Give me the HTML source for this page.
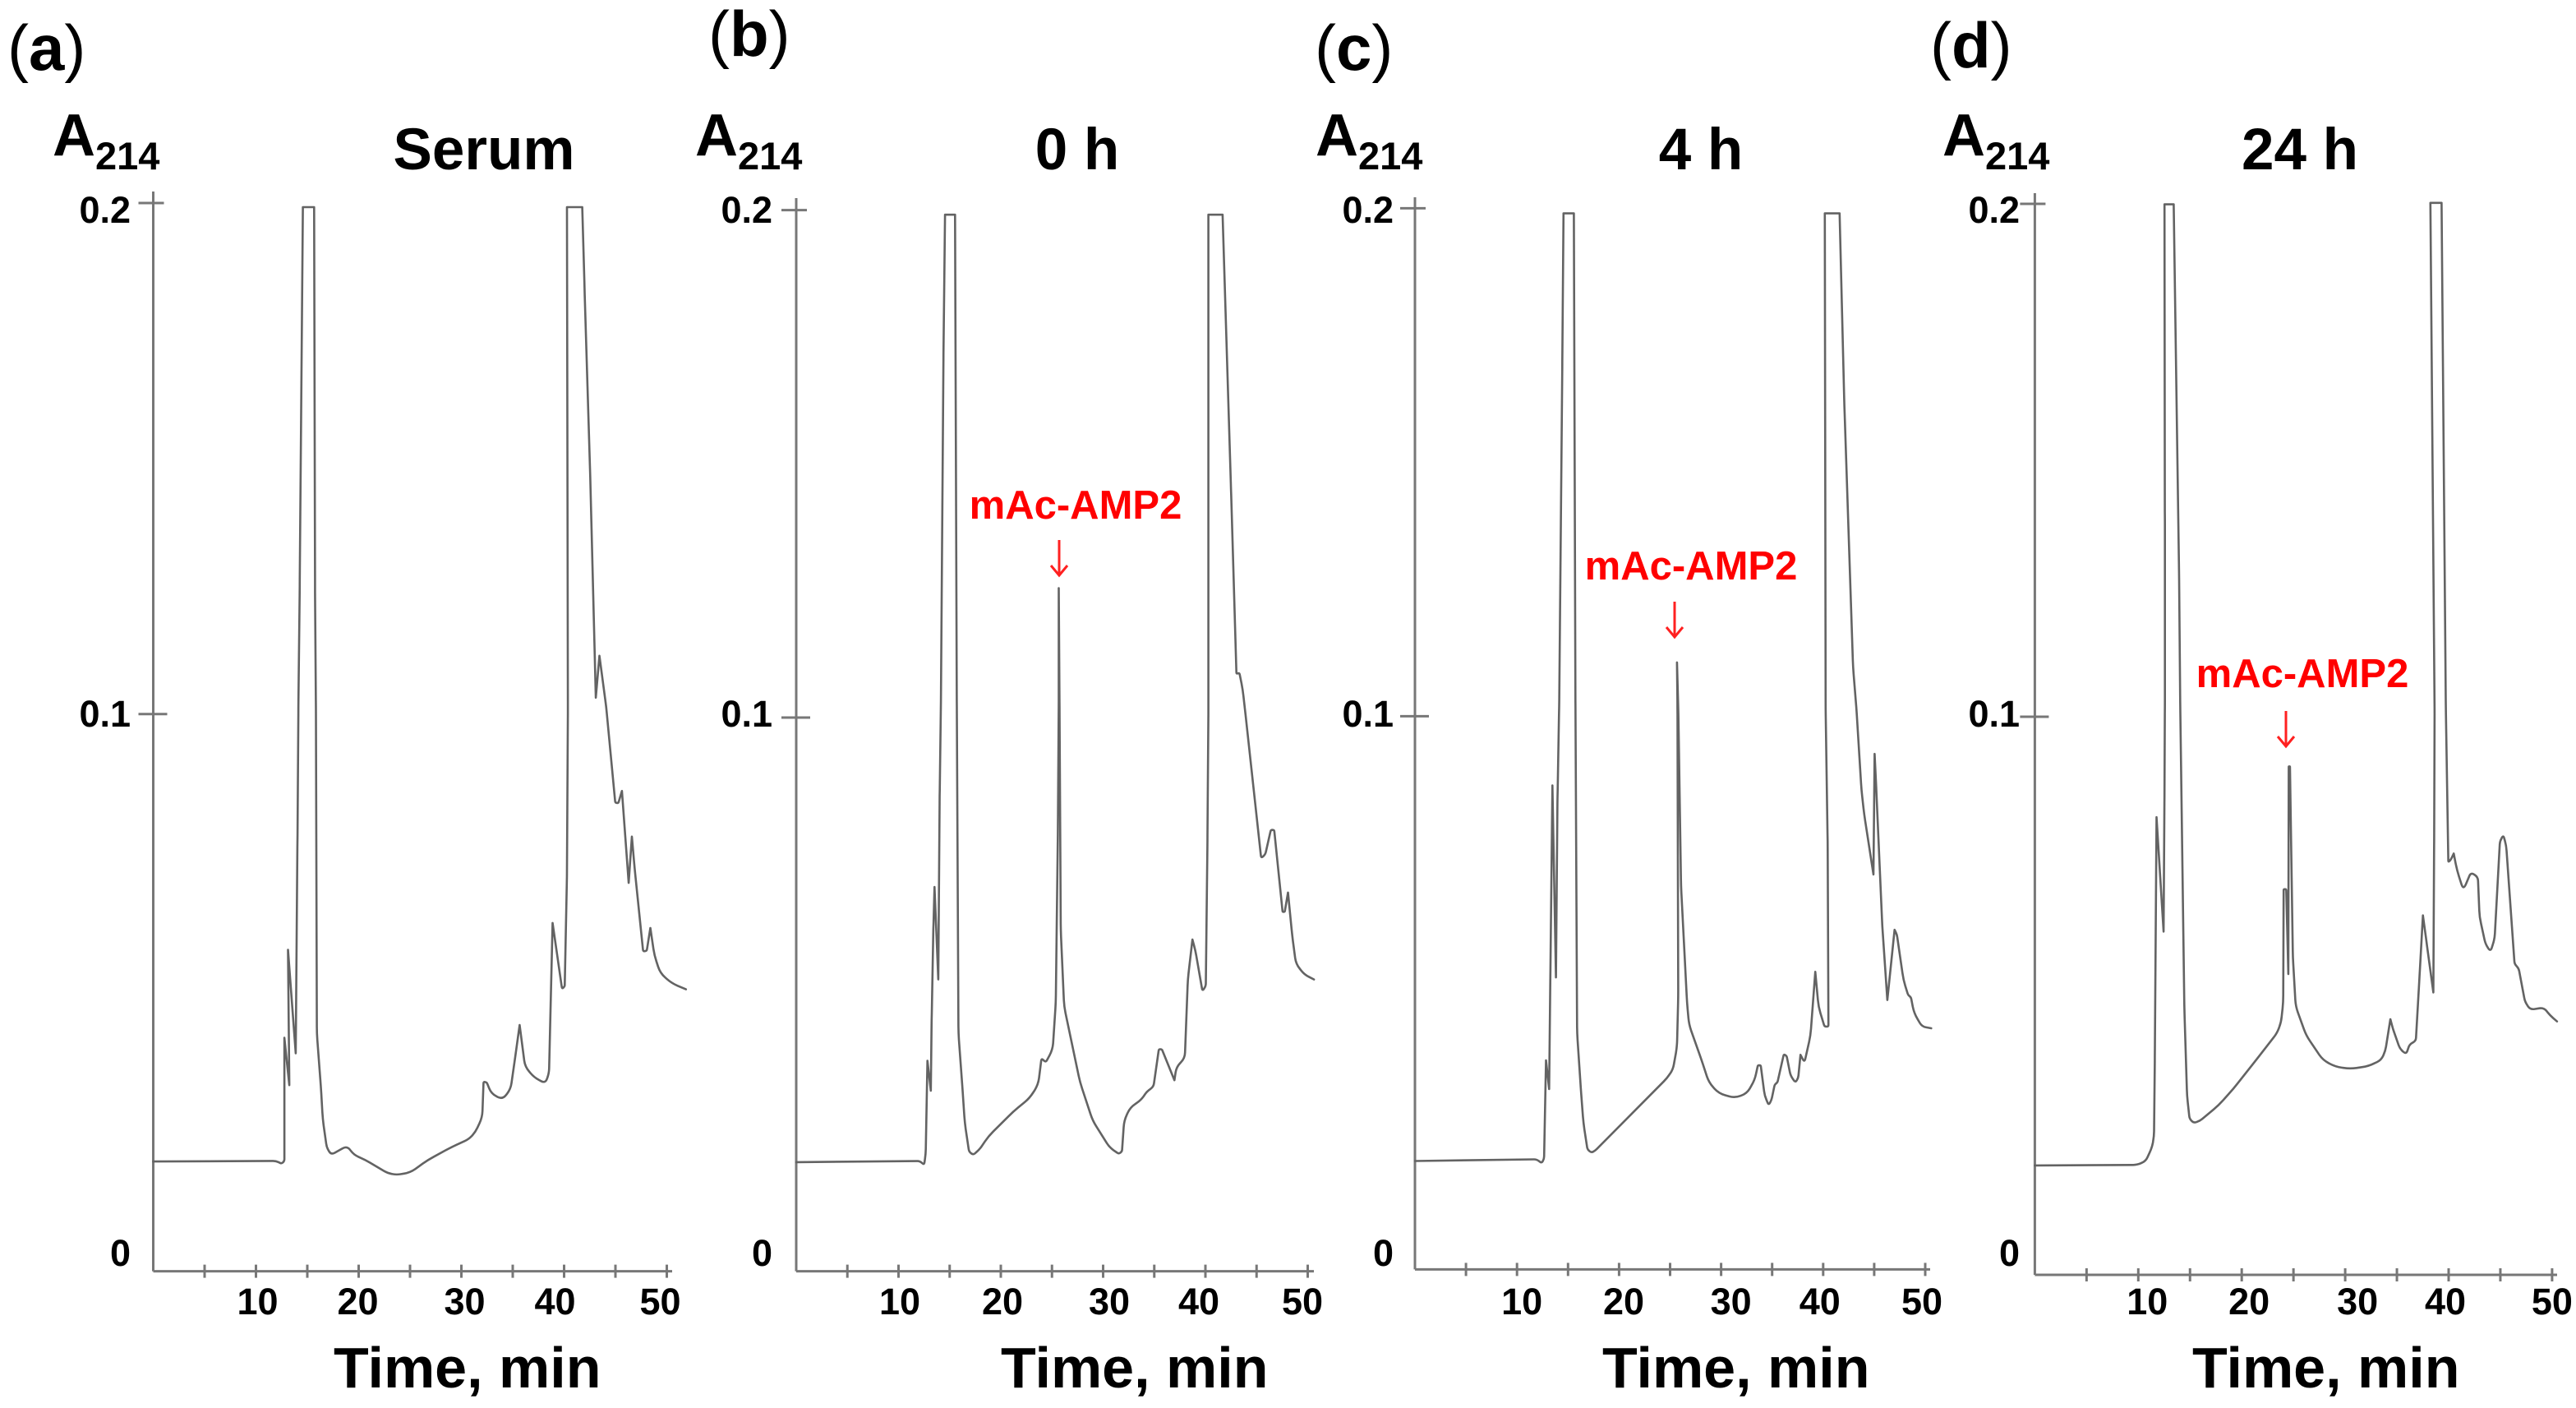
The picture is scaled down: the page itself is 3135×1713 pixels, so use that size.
<!DOCTYPE html>
<html lang="en">
<head>
<meta charset="utf-8">
<title>A214 chromatograms of mAc-AMP2 in serum</title>
<style>
html,body{margin:0;padding:0;background:#fff;width:3135px;height:1713px;overflow:hidden}
svg{display:block;font-family:"Liberation Sans",Arial,sans-serif}
text{fill:#000}
.panel-letter{font-size:78px;font-weight:700}
.a-main{font-size:72px;font-weight:700}
.a-sub{font-size:47px;font-weight:700}
.title{font-size:71px;font-weight:700;text-anchor:middle}
.x-title{font-size:70px;font-weight:700}
.peak-label{font-size:49px;font-weight:700;text-anchor:middle;fill:#ff0000}
.tick-label{font-size:45px;font-weight:700}
.axis{stroke:#777;stroke-width:3;fill:none}
.trace{stroke:#636363;stroke-width:2.6;fill:none;stroke-linejoin:round;stroke-linecap:round}
.arrow{stroke:#ff2020;stroke-width:3;fill:none}
</style>
</head>
<body>
<svg id="fig" width="3135" height="1713" viewBox="0 0 3135 1713" xmlns="http://www.w3.org/2000/svg">
  <rect width="3135" height="1713" fill="#fff"/>

  <text class="panel-letter" x="9" y="85"><tspan font-weight="400">(</tspan>a<tspan font-weight="400">)</tspan></text>
  <text class="panel-letter" x="862" y="68"><tspan font-weight="400">(</tspan>b<tspan font-weight="400">)</tspan></text>
  <text class="panel-letter" x="1600" y="85"><tspan font-weight="400">(</tspan>c<tspan font-weight="400">)</tspan></text>
  <text class="panel-letter" x="2349" y="82"><tspan font-weight="400">(</tspan>d<tspan font-weight="400">)</tspan></text>

  <g><text class="a-main" x="64" y="189">A</text><text class="a-sub" x="116" y="206">214</text></g>
  <g><text class="a-main" x="846" y="189">A</text><text class="a-sub" x="898" y="206">214</text></g>
  <g><text class="a-main" x="1601" y="189">A</text><text class="a-sub" x="1653" y="206">214</text></g>
  <g><text class="a-main" x="2364" y="189">A</text><text class="a-sub" x="2416" y="206">214</text></g>

  <text class="title" x="589" y="206">Serum</text>
  <text class="title" x="1311" y="206">0 h</text>
  <text class="title" x="2070" y="206">4 h</text>
  <text class="title" x="2799" y="206">24 h</text>

  <text class="x-title" x="406" y="1688">Time, min</text>
  <text class="x-title" x="1218" y="1688">Time, min</text>
  <text class="x-title" x="1950" y="1688">Time, min</text>
  <text class="x-title" x="2668" y="1688">Time, min</text>

  <text class="peak-label" x="1309" y="631">mAc-AMP2</text>
  <path class="arrow" d="M1289 657V699M1279 688L1289 700L1299 688"/>
  <text class="peak-label" x="2058" y="705">mAc-AMP2</text>
  <path class="arrow" d="M2038 732V774M2028 763L2038 775L2048 763"/>
  <text class="peak-label" x="2802" y="836">mAc-AMP2</text>
  <path class="arrow" d="M2782 865V907M2772 896L2782 908L2792 896"/>
</svg>

<script>
// ---------- tick data ----------
const xTickValues = [5, 10, 15, 20, 25, 30, 35, 40, 45, 50];
const xTickLabels = [10, 20, 30, 40, 50];
const yTickValues = [0.2, 0.1];
const yLabelValues = [0.2, 0.1, 0];

// ---------- panel (a) Serum ----------
const serumTime = [0,11.94,12.51,12.77,12.77,13.25,13.12,13.87,14.04,14.13,14.26,14.57,15.66,15.75,15.84,15.93,16.32,16.5,16.89,17.33,18.87,19.53,20.62,22.82,23.69,25.01,26.77,28.96,30.72,31.37,32.03,32.16,32.47,32.91,34.01,34.8,35.32,35.67,36.2,37.08,38.17,38.53,38.88,39.8,40.06,40.28,40.37,40.28,41.77,41.99,42.56,43.09,43.44,44.1,44.98,45.28,45.63,46.29,46.6,46.86,47.7,48.05,48.4,48.79,49.36,50.46,51.86];
const serumAbs = [.0197,.0198,.0193,.0198,.0419,.0334,.0577,.0391,.0772,.1013,.125,.1992,.1992,.125,.1013,.0427,.0331,.0274,.0222,.0209,.0225,.0209,.02,.0176,.0173,.0177,.02,.0222,.0237,.025,.0276,.034,.0339,.0319,.0308,.0327,.0395,.0442,.0367,.0348,.0337,.0355,.0625,.0507,.0511,.0708,.1013,.1992,.1992,.1833,.1453,.1032,.1114,.1014,.0841,.084,.0862,.0697,.078,.0724,.0574,.0575,.0616,.0567,.0535,.0517,.0506];

// ---------- panel (b) 0 h ----------
const h0Time = [0,12.09,12.5,12.66,12.83,13.16,13.24,13.4,13.52,13.89,14.02,14.14,14.39,14.55,15.53,15.7,15.86,16.27,16.48,16.89,17.3,17.91,18.81,21.19,22.83,23.65,23.98,24.39,25.08,25.37,25.57,25.66,25.66,25.74,25.86,26.19,27.75,28.98,30.61,31.52,31.84,32.05,32.66,33.69,34.3,34.92,35.45,35.74,36.97,37.17,37.99,38.28,38.73,39.02,39.71,40.04,40.2,40.29,40.29,41.68,42.5,43.03,43.32,43.65,43.85,45.45,45.86,46.39,46.72,47.54,47.75,48.07,48.48,48.85,49.67,50.61];
const h0Abs = [.0197,.0199,.0192,.0212,.038,.0326,.0454,.0616,.0694,.0527,.0858,.1019,.1703,.1991,.1991,.1021,.043,.0325,.0268,.0216,.021,.022,.0244,.0288,.0313,.0337,.0385,.0377,.0401,.0486,.0777,.1019,.1255,.1019,.0616,.0478,.0341,.0272,.0224,.0212,.0216,.0272,.0296,.0309,.0325,.0333,.0401,.0401,.0345,.0369,.0385,.0527,.0599,.0579,.0506,.0515,.0777,.1019,.1991,.1991,.145,.1086,.1088,.1055,.1019,.0746,.0753,.0797,.0797,.0649,.0649,.0684,.0607,.0555,.0536,.0527];

// ---------- panel (c) 4 h ----------
const h4Time = [0,11.94,12.41,12.65,12.84,13.15,13.27,13.47,13.82,13.97,14.13,14.44,14.56,15.57,15.73,15.89,16.24,16.51,16.9,17.29,17.68,24.71,25.29,25.68,25.8,25.72,25.68,25.8,26.07,26.66,26.85,28.02,28.8,29.78,31.34,32.51,33.29,33.6,33.88,34.27,34.66,34.93,35.25,35.52,36.14,36.42,36.81,37.28,37.55,37.78,38.17,38.76,39.23,39.54,40.13,40.52,40.44,40.24,40.16,41.61,42.08,42.93,43.25,43.75,44.02,44.93,45.04,45.2,45.79,46.29,47,47.23,47.86,48.32,48.6,48.91,49.69,50.59];
const h4Abs = [.0196,.0199,.0192,.02,.0378,.0326,.0532,.0875,.0528,.0855,.1017,.17,.199,.199,.1017,.0427,.033,.0265,.0217,.0211,.0215,.0346,.0362,.0403,.0492,.1017,.1106,.1017,.0694,.0483,.0443,.0382,.0338,.0318,.031,.0318,.0342,.0369,.0369,.0314,.0297,.0306,.0334,.0338,.0389,.0386,.035,.0338,.0346,.0388,.0374,.0423,.0538,.0475,.0439,.0439,.0774,.1017,.199,.199,.1611,.1097,.1017,.0867,.0823,.0714,.0932,.0871,.0621,.0487,.0614,.0605,.0524,.0496,.0492,.0463,.0439,.0436];

// ---------- panel (d) 24 h ----------
const h24Time = [0,9.91,10.72,11.32,11.52,11.6,11.76,12.45,12.53,12.57,12.57,12.53,13.42,13.94,14.06,14.46,14.71,14.95,15.35,15.96,17.77,19.18,21.39,23.41,23.81,24.01,24.05,24.3,24.5,24.54,24.66,24.94,25.22,26.23,27.84,29.05,30.46,32.27,33.48,33.88,34.37,34.61,35.29,35.9,36.22,36.83,37.19,37.51,37.83,38.52,38.6,38.64,38.24,39.32,39.73,39.97,40.25,40.49,40.81,41.42,42.14,42.83,42.99,43.56,44.04,44.44,44.96,45.29,45.57,46.37,46.77,47.38,47.9,49.2,49.8,50.48];
const h24Abs = [.0196,.0197,.0204,.0228,.0248,.0393,.082,.0615,.0857,.1018,.1387,.1999,.1999,.1281,.1018,.0473,.0321,.028,.0272,.0276,.0304,.0333,.0385,.0433,.0453,.0489,.0691,.0691,.0539,.0911,.0911,.0569,.0481,.0429,.0385,.0373,.0369,.0374,.0385,.0401,.0458,.0441,.0405,.0395,.0413,.0419,.0537,.0644,.0601,.0506,.0777,.1018,.2002,.2002,.1019,.0739,.0745,.0755,.0725,.0689,.0721,.0713,.0641,.0593,.0579,.0601,.0777,.0788,.0769,.0557,.0549,.0489,.0475,.0479,.0465,.0454];

// ---------- panel layout (pixels) ----------
const panels = [
  {id:'a', time:serumTime, abs:serumAbs, x0:186.5, pxPerMin:12.5,  xEnd:818,  yAxisTop:233, y0:1546.6, y1:868.7, y2:247, yLabelRight:159, nudge:[2,-1,4,-11,-8]},
  {id:'b', time:h0Time,    abs:h0Abs,    x0:969,   pxPerMin:12.45, xEnd:1599, yAxisTop:241, y0:1546.6, y1:873, y2:255.6, yLabelRight:940, nudge:[1.5,2,7.5,-8,-6.5]},
  {id:'c', time:h4Time,    abs:h4Abs,    x0:1722,  pxPerMin:12.42, xEnd:2349, yAxisTop:240, y0:1544.4, y1:871.4, y2:253.4, yLabelRight:1696, nudge:[6,5.6,12,-4,-4]},
  {id:'d', time:h24Time,   abs:h24Abs,   x0:2476.4,pxPerMin:12.59, xEnd:3112, yAxisTop:235, y0:1551, y1:872, y2:248, yLabelRight:2458, nudge:[11,9,15,-4,0]}
];
const yLabelBaseline = {0:1540, 0.1:884, 0.2:271};
const xLabelBaseline = 1599;

const NS = 'http://www.w3.org/2000/svg';
const fig = document.getElementById('fig');

function xScale(p, t){ return p.x0 + t * p.pxPerMin; }
function yScale(p, v){
  // the printed axis is not evenly spaced: piecewise between labelled values
  if (v <= 0.1) return p.y0 + (p.y1 - p.y0) * (v / 0.1);
  return p.y1 + (p.y2 - p.y1) * ((v - 0.1) / 0.1);
}
function make(tag, parent){
  const el = document.createElementNS(NS, tag);
  parent.appendChild(el);
  return el;
}
// straight segments with softened corners; needle-sharp spikes stay pointed
function tracePath(pts){
  let d = 'M' + pts[0][0].toFixed(1) + ' ' + pts[0][1].toFixed(1);
  for (let i = 1; i < pts.length - 1; i++){
    const a = pts[i-1], b = pts[i], c = pts[i+1];
    const ax = a[0]-b[0], ay = a[1]-b[1], cx = c[0]-b[0], cy = c[1]-b[1];
    const la = Math.hypot(ax, ay) || 1, lc = Math.hypot(cx, cy) || 1;
    const cos = (ax*cx + ay*cy) / (la*lc);
    if (cos > 0.8 || b[1] < 300){
      d += 'L' + b[0].toFixed(1) + ' ' + b[1].toFixed(1);
    } else {
      const r = Math.min(8, 0.45*la, 0.45*lc);
      d += 'L' + (b[0]+ax/la*r).toFixed(1) + ' ' + (b[1]+ay/la*r).toFixed(1);
      d += 'Q' + b[0].toFixed(1) + ' ' + b[1].toFixed(1) + ' ' + (b[0]+cx/lc*r).toFixed(1) + ' ' + (b[1]+cy/lc*r).toFixed(1);
    }
  }
  const z = pts[pts.length-1];
  d += 'L' + z[0].toFixed(1) + ' ' + z[1].toFixed(1);
  return d;
}

panels.forEach(function(p){
  const g = make('g', fig);
  
  

  // axes
  const yAxis = make('line', g);
  yAxis.setAttribute('class', 'axis');
  yAxis.setAttribute('x1', p.x0); yAxis.setAttribute('x2', p.x0);
  yAxis.setAttribute('y1', p.yAxisTop); yAxis.setAttribute('y2', p.y0);
  
  

  const xAxis = make('line', g);
  xAxis.setAttribute('class', 'axis');
  xAxis.setAttribute('x1', p.x0); xAxis.setAttribute('x2', p.xEnd);
  xAxis.setAttribute('y1', p.y0); xAxis.setAttribute('y2', p.y0);
  
  

  // x ticks
  xTickValues.forEach(function(t){
    const tick = make('line', g);
    tick.setAttribute('class', 'axis');
    tick.setAttribute('x1', xScale(p, t)); tick.setAttribute('x2', xScale(p, t));
    tick.setAttribute('y1', p.y0 - 8); tick.setAttribute('y2', p.y0 + 8);
    
    
  });
  xTickLabels.forEach(function(t, i){
    const lab = make('text', g);
    lab.setAttribute('class', 'tick-label');
    lab.setAttribute('text-anchor', 'middle');
    lab.setAttribute('x', xScale(p, t) + p.nudge[i]);
    lab.setAttribute('y', xLabelBaseline);
    lab.textContent = String(t);
    
    
  });

  // y ticks
  yTickValues.forEach(function(v){
    const tick = make('line', g);
    tick.setAttribute('class', 'axis');
    tick.setAttribute('x1', p.x0 - 18); tick.setAttribute('x2', p.x0 + (v === 0.2 ? 13 : 17));
    tick.setAttribute('y1', yScale(p, v)); tick.setAttribute('y2', yScale(p, v));
    
    
  });
  yLabelValues.forEach(function(v){
    const lab = make('text', g);
    lab.setAttribute('class', 'tick-label');
    lab.setAttribute('text-anchor', 'end');
    lab.setAttribute('x', p.yLabelRight);
    lab.setAttribute('y', yLabelBaseline[v]);
    lab.textContent = String(v);
    
    
  });

  // trace
  const trace = make('path', g);
  trace.setAttribute('class', 'trace');
  trace.setAttribute('d', tracePath(p.time.map(function(t, i){
    return [xScale(p, t), yScale(p, p.abs[i])];
  })));
  
  
});
</script>
</body>
</html>
